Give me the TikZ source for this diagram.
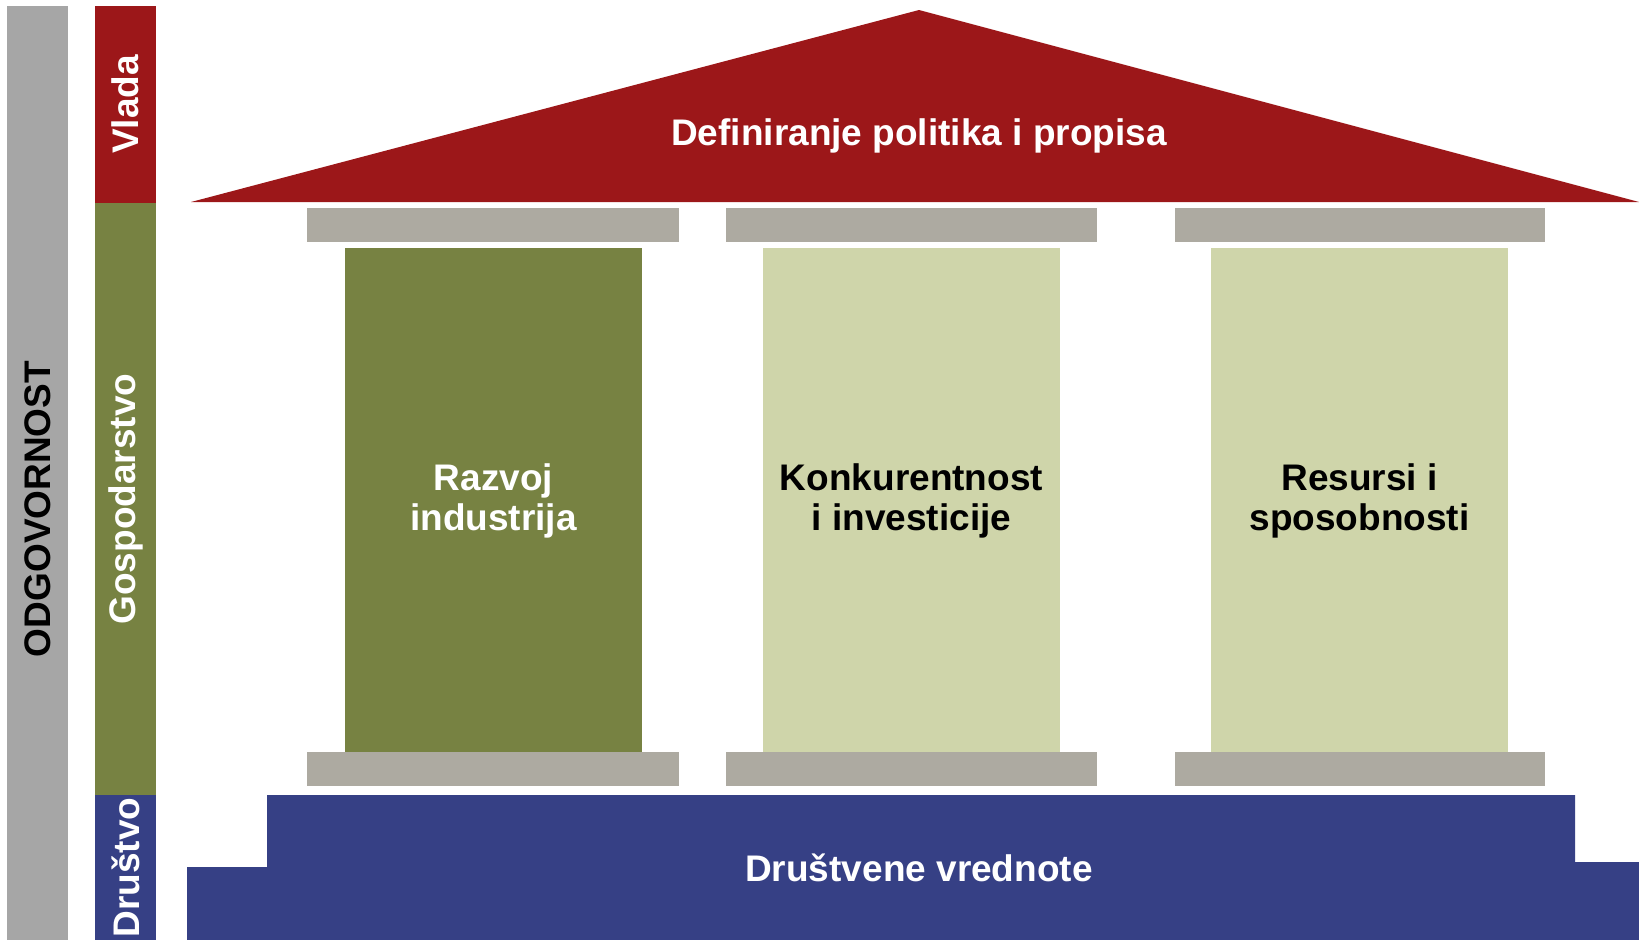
\documentclass[tikz,border=0pt]{standalone}
\usepackage{fontspec}
\setmainfont{Liberation Sans}
\definecolor{barGray}{RGB}{166,166,166}
\definecolor{roofRed}{RGB}{156,23,25}
\definecolor{olive}{RGB}{119,130,66}
\definecolor{paleOlive}{RGB}{207,213,170}
\definecolor{capGray}{RGB}{173,170,161}
\definecolor{baseBlue}{RGB}{54,64,133}
\tikzset{
  blk/.style={inner sep=0pt, outer sep=0pt, anchor=north west, draw=none},
  lbl/.style={font=\fontsize{37}{40}\selectfont\bfseries, align=center, inner sep=0pt},
}
\newcommand{\boxat}[6]{% name, color, x1, y1, x2, y2
  \node[blk, fill=#2, minimum width={(#5-#3)*1pt}, minimum height={(#6-#4)*1pt}] (#1) at (#3,#4) {};}
\begin{document}
\begin{tikzpicture}[x=1pt,y=-1pt]
\useasboundingbox (0,0) rectangle (1639,940);
% left bars
\boxat{odg}{barGray}{7}{6}{68}{940}
\boxat{vlada}{roofRed}{95}{6}{156}{203}
\boxat{gosp}{olive}{95}{203}{156}{795}
\boxat{drus}{baseBlue}{95}{795}{156}{940}
\node[lbl, rotate=90, text=black] at (37.5,509) {ODGOVORNOST};
\node[lbl, rotate=90, text=white] at (vlada.center) {Vlada};
\node[lbl, rotate=90, text=white] at (gosp.center) {Gospodarstvo};
\node[lbl, rotate=90, text=white] at (drus.center) {Društvo};
% roof
\coordinate (roofL) at (191,202);
\coordinate (roofT) at (919,10);
\coordinate (roofR) at (1639,202);
\fill[roofRed] (roofL) -- (roofT) -- (roofR) -- cycle;
\node[lbl, text=white] (roofText) at (919,136) {Definiranje politika i propisa};
% caps
\boxat{capA}{capGray}{307}{208}{679}{242}
\boxat{capB}{capGray}{726}{208}{1097}{242}
\boxat{capC}{capGray}{1175}{208}{1545}{242}
\boxat{baseA}{capGray}{307}{752}{679}{786}
\boxat{baseB}{capGray}{726}{752}{1097}{786}
\boxat{baseC}{capGray}{1175}{752}{1545}{786}
% columns
\boxat{colA}{olive}{345}{248}{642}{752}
\boxat{colB}{paleOlive}{763}{248}{1060}{752}
\boxat{colC}{paleOlive}{1211}{248}{1508}{752}
\node[lbl, text=white] at ([yshift=-1pt]colA.center) {Razvoj\\industrija};
\node[lbl, text=black] at ([yshift=-1pt]colB.center) {Konkurentnost\\i investicije};
\node[lbl, text=black] at ([yshift=-1pt]colC.center) {Resursi i\\sposobnosti};
% base
\fill[baseBlue] (267,795) -- (1575,795) -- (1575,862) -- (1639,862) -- (1639,940)
  -- (187,940) -- (187,867) -- (267,867) -- cycle;
\node[lbl, text=white] (baseText) at (919,868) {Društvene vrednote};
\end{tikzpicture}
\end{document}
